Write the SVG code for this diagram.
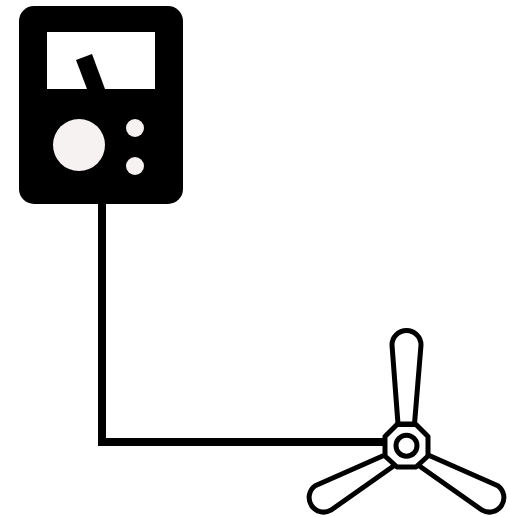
<svg xmlns="http://www.w3.org/2000/svg" width="509" height="517" viewBox="0 0 509 517">
  <style>
    .lamp { fill: #f5f2f1; }
    .fan { fill: #fff; stroke: #000; stroke-width: 5; stroke-linejoin: round; }
    .wire { fill: none; stroke: #000; stroke-width: 8; stroke-linejoin: miter; }
  </style>
  <rect width="509" height="517" fill="#fff"/>
  <g id="connectors">
    <path class="wire" d="M102 204V442H386"/>
  </g>
  <g id="meter">
    <rect x="19" y="6" width="164" height="198" rx="15" fill="#000"/>
    <rect x="47" y="32" width="108" height="57" fill="#fff"/>
    <polygon points="76,60 92,54 105,89 87,89" fill="#000"/>
    <circle class="lamp" cx="79" cy="145" r="26"/>
    <circle class="lamp" cx="135" cy="128" r="9"/>
    <circle class="lamp" cx="135" cy="166" r="9"/>
  </g>
  <g id="fan">
    <path class="fan" d="M398 424L392 345A14.500 14.500 0 1 1 421 345L414.500 424Z"/>
    <path class="fan" d="M386 454.500L315.200 485.800A14.500 14.500 0 0 0 330.800 510.200L395 465Z"/>
    <path class="fan" d="M427 454.500L497.800 485.800A14.500 14.500 0 0 1 482.200 510.200L418 465Z"/>
    <polygon class="fan" points="397,424.500 416,424.500 428,436.500 428,456 416,467 397,467 385,456 385,436.500"/>
    <circle class="fan" cx="406.500" cy="445.700" r="10.500"/>
  </g>
</svg>
